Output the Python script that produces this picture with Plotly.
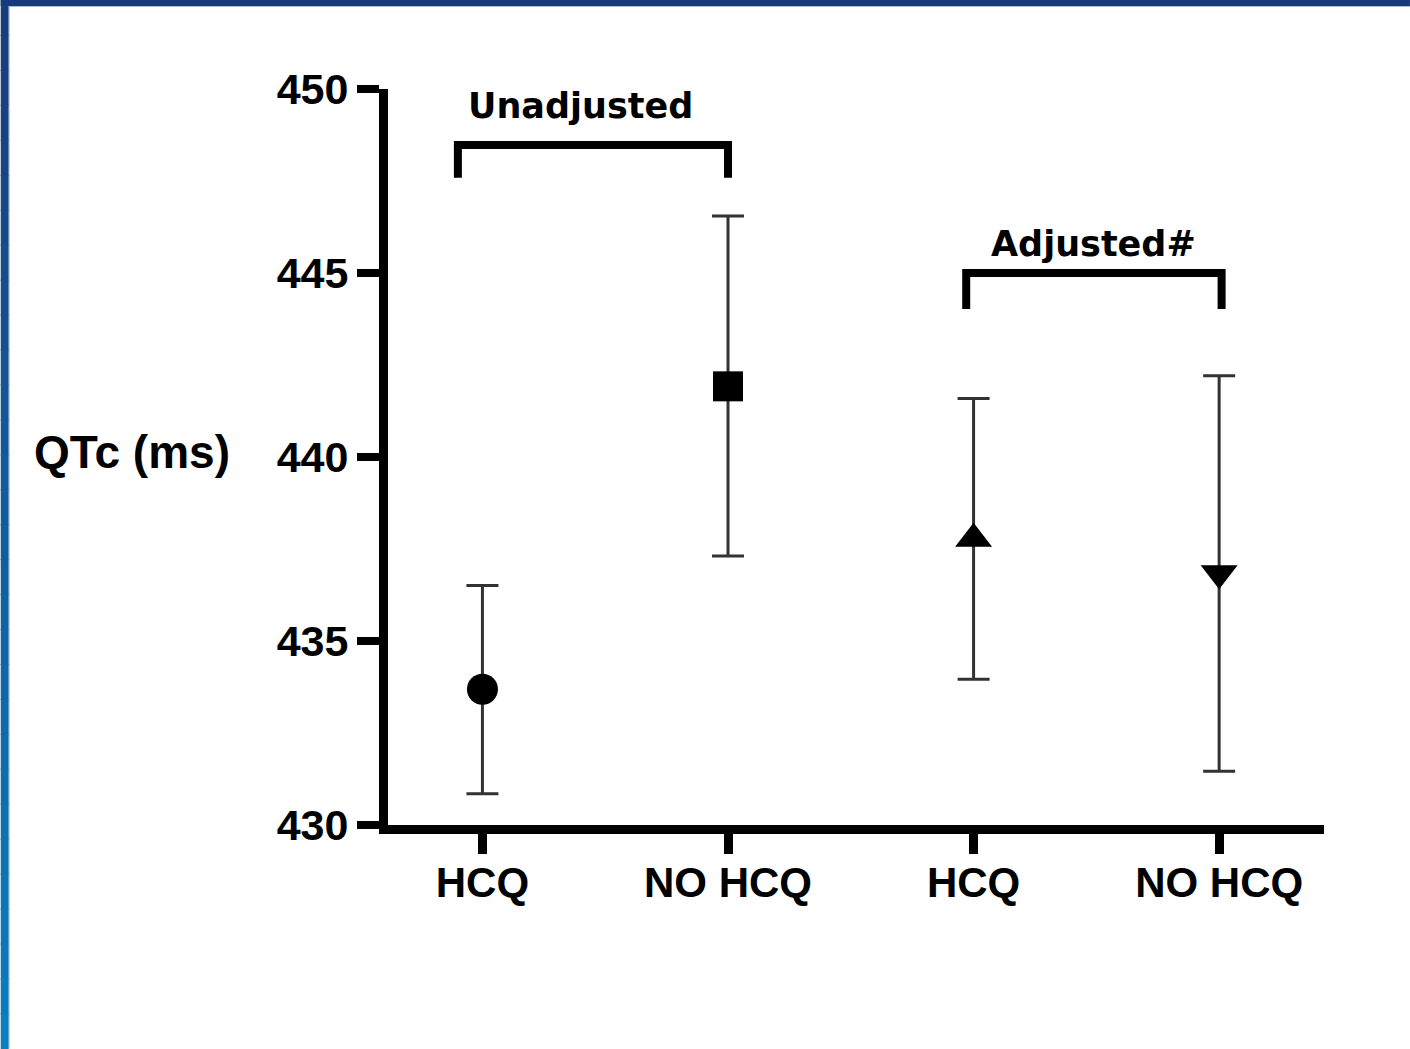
import plotly.graph_objects as go

# ---------------- data ----------------
group_labels = ["HCQ", "NO HCQ", "HCQ", "NO HCQ"]
x_pos = [0, 1, 2, 3]
qtc_mean = [433.69, 441.92, 437.78, 436.84]
ci_upper = [436.51, 446.55, 441.59, 442.21]
ci_lower = [430.85, 437.31, 433.96, 431.46]
marker_symbols = ["circle", "square", "triangle-up", "triangle-down"]
y_ticks = [430, 435, 440, 445, 450]
bracket_labels = ["Unadjusted", "Adjusted#"]

# ---------------- layout geometry / styling ----------------
W, H = 1410, 1049
PL, PR, PT, PB = 387.5, 1324.0, 89.0, 825.5
marker_sizes = [31, 30, 32, 32]
bracket_x = [(-0.10, 1.0), (1.97, 3.01)]
bracket_top = [448.48, 445.0]
bracket_foot = [447.59, 444.02]
bracket_label_x = [0.40, 2.487]
bracket_label_y = [449.54, 445.78]

def px_x(px):
    return (px - PL) / (PR - PL)

def px_y(py):
    return (PB - py) / (PB - PT)

err_plus = [u - m for u, m in zip(ci_upper, qtc_mean)]
err_minus = [m - l for m, l in zip(qtc_mean, ci_lower)]

fig = go.Figure()
fig.add_trace(go.Scatter(
    x=x_pos, y=qtc_mean, mode="markers",
    marker=dict(symbol=marker_symbols, size=marker_sizes, color="black", opacity=1,
                line=dict(width=0)),
    error_y=dict(type="data", symmetric=False, array=err_plus, arrayminus=err_minus,
                 color="#333333", thickness=3, width=16),
    showlegend=False, hoverinfo="skip",
))

shapes = []
# brackets
for (x0, x1), yt, yf in zip(bracket_x, bracket_top, bracket_foot):
    shapes.append(dict(type="path", xref="x", yref="y",
                       path=f"M {x0},{yf} L {x0},{yt} L {x1},{yt} L {x1},{yf}",
                       line=dict(color="black", width=8)))

# decorative slide border (gradient left band + top band)
n = 30
c_top = (24, 60, 124)
c_bot = (10, 126, 190)
for i in range(n):
    t = i / (n - 1)
    col = tuple(int(round(a + (b - a) * t)) for a, b in zip(c_top, c_bot))
    y0 = H * i / n
    y1 = H * (i + 1) / n + 1
    shapes.append(dict(type="rect", xref="paper", yref="paper",
                       x0=px_x(0), x1=px_x(8), y0=px_y(y1), y1=px_y(y0),
                       fillcolor="rgb(%d,%d,%d)" % col, line=dict(width=0), layer="above"))
shapes.append(dict(type="rect", xref="paper", yref="paper",
                   x0=px_x(8), x1=px_x(9), y0=px_y(H), y1=px_y(6),
                   fillcolor="rgba(150,180,215,0.8)", line=dict(width=0), layer="above"))
shapes.append(dict(type="rect", xref="paper", yref="paper",
                   x0=px_x(0), x1=px_x(W), y0=px_y(6), y1=px_y(0),
                   fillcolor="rgb(22,58,122)", line=dict(width=0), layer="above"))
shapes.append(dict(type="rect", xref="paper", yref="paper",
                   x0=px_x(8), x1=px_x(W), y0=px_y(7), y1=px_y(6),
                   fillcolor="rgba(150,170,205,0.8)", line=dict(width=0), layer="above"))

annotations = []
for lab, lx, ly in zip(bracket_labels, bracket_label_x, bracket_label_y):
    annotations.append(dict(text=lab, x=lx, y=ly, xref="x", yref="y", showarrow=False,
                            xanchor="center", yanchor="middle",
                            font=dict(family="DejaVu Sans", size=35, color="black", weight="bold")))
annotations.append(dict(text="QTc (ms)", x=px_x(131), y=px_y(452), xref="paper", yref="paper",
                        showarrow=False, xanchor="center", yanchor="middle",
                        font=dict(family="Liberation Sans, Arial", size=46, color="black", weight="bold")))

fig.update_layout(
    width=W, height=H, autosize=False,
    margin=dict(l=PL, r=W - PR, t=PT, b=H - PB, pad=0),
    paper_bgcolor="white", plot_bgcolor="white",
    shapes=shapes, annotations=annotations,
    xaxis=dict(range=[-0.3846, 3.427], tickmode="array", tickvals=x_pos, ticktext=group_labels,
               showline=True, linewidth=9, linecolor="black", ticks="outside", ticklen=20,
               tickwidth=9, tickcolor="black", showgrid=False, zeroline=False,
               ticklabelstandoff=-7,
               tickfont=dict(family="Liberation Sans, Arial", size=42, color="black", weight="bold")),
    yaxis=dict(range=[430, 450], tickmode="array", tickvals=y_ticks,
               showline=True, linewidth=9, linecolor="black", ticks="outside", ticklen=22,
               tickwidth=8, tickcolor="black", showgrid=False, zeroline=False,
               tickfont=dict(family="Liberation Sans, Arial", size=43, color="black", weight="bold")),
)

fig.write_html("out.html", config={"displayModeBar": False},
               post_script="document.body.style.margin='0';")
